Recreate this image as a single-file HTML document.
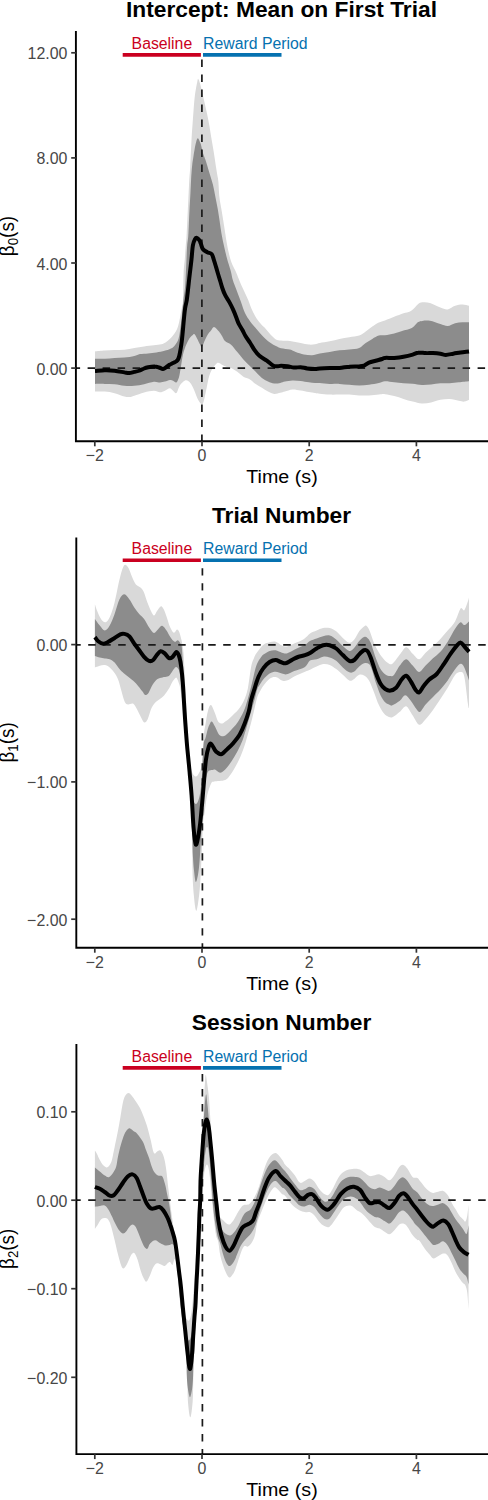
<!DOCTYPE html><html><head><meta charset="utf-8"><style>
html,body{margin:0;padding:0;background:#fff;width:488px;height:1500px;overflow:hidden}
svg{display:block}
text{font-family:"Liberation Sans",sans-serif}
</style></head><body>
<svg width="488" height="1500" viewBox="0 0 488 1500">
<path d="M95.0,351.4C96.6,351.3 101.5,350.8 104.8,350.6C108.1,350.4 111.3,350.2 114.6,350.1C117.9,350.0 121.1,350.1 124.4,349.8C127.7,349.5 131.0,348.7 134.3,348.1C137.6,347.6 140.8,347.0 144.1,346.5C147.4,346.0 151.0,345.7 153.9,345.3C156.8,344.9 159.4,344.8 161.3,344.3C163.2,343.8 164.1,343.3 165.5,342.5C166.9,341.7 168.2,340.5 169.5,339.3C170.8,338.1 171.9,336.9 173.0,335.5C174.1,334.1 175.3,332.6 176.1,331.1C176.9,329.6 177.5,328.1 178.0,326.5C178.5,324.9 178.9,323.4 179.3,321.3C179.8,319.2 180.3,316.2 180.7,314.0C181.1,311.8 181.4,310.5 181.8,308.2C182.2,305.9 182.7,305.8 183.0,300.0C183.3,294.2 183.3,280.5 183.6,273.7C183.9,266.9 184.4,264.1 184.8,259.3C185.2,254.5 185.5,248.8 185.8,245.0C186.1,241.2 186.3,240.5 186.5,236.7C186.7,232.9 187.0,227.2 187.2,222.4C187.4,217.6 187.7,212.8 187.9,208.0C188.1,203.2 188.4,198.5 188.6,193.7C188.8,188.9 189.1,183.5 189.3,179.3C189.6,175.1 189.9,172.3 190.1,168.4C190.3,164.5 190.5,160.2 190.7,156.1C190.9,152.0 191.1,147.9 191.3,143.8C191.5,139.7 191.7,135.6 192.0,131.5C192.3,127.4 192.6,123.3 192.9,119.2C193.2,115.1 193.5,111.0 193.8,106.9C194.2,102.8 194.6,97.7 195.0,94.6C195.4,91.5 195.6,90.5 196.0,88.4C196.4,86.4 196.8,83.9 197.2,82.3C197.6,80.7 197.7,78.6 198.2,78.9C198.7,79.2 199.4,81.2 200.2,84.0C201.0,86.8 202.1,91.8 202.9,95.5C203.8,99.2 204.5,102.6 205.3,106.0C206.1,109.4 206.8,112.6 207.5,116.0C208.2,119.4 208.9,123.1 209.5,126.5C210.1,129.9 210.5,133.1 211.1,136.5C211.7,139.9 212.3,143.6 212.9,147.0C213.5,150.4 214.0,153.7 214.5,157.0C215.0,160.3 215.5,164.0 216.0,167.0C216.5,170.0 216.9,172.7 217.3,175.0C217.7,177.3 218.0,177.3 218.3,181.0C218.7,184.7 218.9,192.2 219.4,196.9C219.9,201.6 220.7,205.1 221.4,209.2C222.1,213.3 222.8,217.4 223.4,221.5C224.1,225.6 224.7,229.7 225.3,233.8C226.0,237.9 226.5,242.0 227.3,246.1C228.1,250.2 229.2,255.1 230.2,258.4C231.1,261.7 232.1,263.9 233.0,266.0C233.9,268.1 234.5,268.8 235.5,271.0C236.5,273.2 237.7,276.3 238.8,279.0C239.9,281.7 240.6,283.5 242.2,287.0C243.8,290.5 246.7,296.5 248.2,300.0C249.7,303.5 250.1,305.5 251.3,308.2C252.5,310.9 253.9,313.8 255.4,316.4C256.9,319.0 258.8,321.6 260.5,323.6C262.2,325.7 263.9,326.8 265.6,328.7C267.3,330.6 269.0,333.0 270.7,334.8C272.4,336.6 274.2,338.4 275.9,339.4C277.6,340.3 278.6,340.2 281.0,340.5C283.4,340.8 286.7,340.6 290.0,341.0C293.3,341.4 297.5,342.4 300.6,343.0C303.7,343.6 306.4,344.4 308.8,344.6C311.2,344.8 313.2,344.6 315.0,344.3C316.8,344.0 317.4,343.5 319.8,343.0C322.2,342.5 326.4,342.0 329.7,341.3C333.0,340.6 336.2,339.6 339.5,338.9C342.8,338.2 346.0,337.8 349.3,337.2C352.6,336.6 356.5,336.6 359.2,335.6C361.9,334.7 363.5,333.0 365.7,331.5C367.9,330.0 370.1,328.1 372.3,326.6C374.5,325.1 376.8,323.5 378.9,322.5C381.0,321.5 382.4,321.3 385.0,320.4C387.6,319.4 391.1,318.0 394.2,316.8C397.3,315.6 400.9,314.2 403.5,313.3C406.1,312.4 408.2,312.4 410.0,311.5C411.8,310.6 412.7,309.5 414.1,308.2C415.5,306.9 416.8,304.9 418.2,303.9C419.6,302.9 420.3,302.5 422.3,302.3C424.3,302.1 427.0,302.0 430.0,302.9C433.0,303.8 437.4,306.4 440.4,307.5C443.3,308.6 445.2,309.7 447.7,309.4C450.1,309.1 452.6,306.5 455.1,305.7C457.6,304.9 460.2,304.4 462.5,304.4C464.8,304.4 467.9,305.5 469.0,305.7L469.0,399.8C468.2,400.1 466.0,401.5 464.3,401.6C462.6,401.8 461.2,401.1 458.8,400.7C456.4,400.2 452.7,399.0 449.6,398.9C446.5,398.8 443.5,399.2 440.4,399.8C437.3,400.4 434.2,401.9 431.1,402.5C428.0,403.1 425.0,403.6 421.9,403.5C418.8,403.4 415.8,402.4 412.7,401.6C409.6,400.8 406.6,399.8 403.5,398.9C400.4,398.0 397.3,396.9 394.2,396.1C391.1,395.3 387.6,394.4 385.0,394.2C382.4,393.9 381.6,394.4 378.9,394.6C376.2,394.8 372.3,395.3 369.0,395.4C365.7,395.5 362.5,395.5 359.2,395.4C355.9,395.3 352.6,394.7 349.3,394.6C346.0,394.5 342.8,394.6 339.5,394.6C336.2,394.6 333.0,394.7 329.7,394.6C326.4,394.5 322.2,394.1 319.8,393.8C317.4,393.5 316.8,393.3 315.0,393.0C313.2,392.7 311.2,392.5 308.8,392.1C306.4,391.7 303.3,390.9 300.6,390.5C297.9,390.1 295.0,389.3 292.4,389.5C289.8,389.7 287.0,391.0 285.0,391.5C283.0,392.0 282.1,392.3 280.3,392.7C278.5,393.1 276.2,394.1 274.2,393.9C272.1,393.7 270.1,392.5 268.0,391.5C265.9,390.5 263.9,389.0 261.9,387.8C259.8,386.6 257.8,385.5 255.7,384.1C253.6,382.7 251.6,380.4 249.6,379.2C247.6,378.0 245.4,377.9 243.4,376.7C241.4,375.5 239.4,373.2 237.3,371.8C235.2,370.4 233.1,369.0 231.1,368.1C229.1,367.2 227.2,367.1 225.6,366.5C224.0,365.9 222.7,365.0 221.5,364.4C220.3,363.8 219.2,362.8 218.2,362.8C217.2,362.8 216.6,363.4 215.7,364.4C214.8,365.3 213.6,366.6 212.5,368.5C211.4,370.4 210.2,372.8 209.2,375.9C208.2,379.0 207.5,383.6 206.7,387.4C205.9,391.2 205.0,396.0 204.3,398.9C203.6,401.8 202.9,403.8 202.3,404.6C201.8,405.4 201.8,404.8 201.0,403.8C200.2,402.9 198.8,401.1 197.7,398.9C196.6,396.7 195.5,393.2 194.4,390.7C193.3,388.2 192.2,385.8 191.1,384.1C190.0,382.5 189.0,381.4 187.9,380.8C186.8,380.2 186.0,380.0 184.6,380.8C183.2,381.6 181.1,383.6 179.7,385.7C178.3,387.8 177.5,392.3 176.4,393.1C175.3,393.9 174.2,391.5 173.1,390.7C172.0,389.9 171.2,388.2 169.8,388.2C168.4,388.2 166.5,390.0 164.9,390.7C163.3,391.4 161.8,392.3 160.0,392.3C158.2,392.3 156.6,390.7 153.9,390.7C151.2,390.7 147.4,391.6 144.1,392.4C140.8,393.2 136.8,394.9 134.3,395.7C131.8,396.5 131.0,396.9 129.3,397.0C127.7,397.1 126.9,397.1 124.4,396.5C122.0,395.9 117.9,394.0 114.6,393.2C111.3,392.4 108.1,391.9 104.8,391.6C101.5,391.3 96.6,391.6 95.0,391.6Z" fill="#d9d9d9"/>
<path d="M95.0,358.8C96.6,358.8 101.5,358.9 104.8,358.8C108.1,358.7 111.3,358.2 114.6,358.0C117.9,357.8 121.1,357.9 124.4,357.6C127.7,357.3 131.7,356.6 134.3,356.0C136.9,355.4 137.7,354.5 140.0,354.1C142.3,353.7 145.3,353.8 148.0,353.5C150.7,353.2 153.6,352.9 156.4,352.5C159.2,352.1 162.3,351.4 164.6,350.8C166.9,350.2 168.6,349.6 170.0,349.0C171.4,348.4 171.9,348.2 172.8,347.5C173.7,346.8 174.7,345.6 175.5,344.5C176.3,343.4 177.1,342.4 177.7,341.0C178.3,339.6 178.8,337.9 179.2,336.0C179.6,334.1 179.9,331.8 180.2,329.5C180.5,327.2 180.9,324.2 181.2,322.0C181.5,319.8 181.4,320.1 181.8,316.4C182.2,312.7 182.9,304.7 183.4,300.0C183.9,295.3 184.6,292.4 185.0,288.0C185.4,283.6 185.6,278.5 185.8,273.7C186.1,268.9 186.3,264.1 186.5,259.3C186.7,254.5 186.9,248.8 187.2,245.0C187.5,241.2 187.9,240.5 188.2,236.7C188.5,232.9 188.7,227.2 188.9,222.4C189.1,217.6 189.3,212.8 189.6,208.0C189.8,203.2 190.2,198.5 190.4,193.7C190.7,188.9 190.8,183.9 191.1,179.3C191.4,174.7 191.7,169.9 192.1,166.0C192.5,162.1 193.1,158.8 193.5,156.1C193.9,153.4 194.1,151.9 194.5,149.9C194.9,147.9 195.1,145.8 195.7,143.8C196.2,141.9 197.0,138.2 197.8,138.2C198.6,138.2 200.0,141.9 200.7,143.8C201.4,145.8 201.5,147.9 202.1,149.9C202.7,151.9 203.4,154.4 204.0,156.1C204.6,157.8 204.6,157.3 205.5,160.0C206.4,162.7 208.0,168.2 209.2,172.3C210.4,176.4 211.9,180.5 212.9,184.6C213.9,188.7 214.6,192.8 215.4,196.9C216.2,201.0 217.1,205.1 217.8,209.2C218.5,213.3 219.1,217.4 219.7,221.5C220.3,225.6 220.8,229.7 221.5,233.8C222.2,237.9 223.1,242.0 224.0,246.1C224.9,250.2 225.9,254.3 227.0,258.4C228.1,262.5 229.7,267.1 230.7,270.7C231.7,274.3 231.8,276.8 232.8,280.0C233.8,283.2 235.1,286.3 236.5,290.0C237.9,293.7 239.6,298.1 241.0,302.0C242.4,305.9 243.6,310.1 245.1,313.3C246.6,316.6 248.5,319.1 250.2,321.5C251.9,323.9 253.7,325.6 255.4,327.7C257.1,329.8 258.8,331.9 260.5,333.8C262.2,335.7 263.9,337.4 265.6,338.9C267.3,340.4 269.0,341.8 270.7,343.0C272.4,344.2 274.2,345.2 275.9,346.1C277.6,347.0 278.6,347.6 281.0,348.2C283.4,348.8 287.6,348.9 290.0,349.5C292.4,350.1 293.4,351.2 295.7,352.0C298.0,352.8 301.2,353.9 303.9,354.4C306.6,354.9 309.4,355.3 312.0,355.2C314.6,355.1 316.9,354.1 319.8,353.6C322.8,353.1 326.4,352.6 329.7,352.0C333.0,351.4 336.2,350.7 339.5,350.3C342.8,349.9 346.0,349.9 349.3,349.5C352.6,349.1 356.5,349.0 359.2,347.9C361.9,346.8 363.5,344.5 365.7,343.0C367.9,341.5 370.1,340.1 372.3,338.9C374.5,337.7 376.8,336.2 378.9,335.6C381.0,335.0 382.4,335.6 385.0,335.2C387.6,334.8 391.1,334.2 394.2,333.4C397.3,332.6 400.9,331.4 403.5,330.6C406.1,329.8 408.2,329.4 410.0,328.7C411.8,328.0 412.7,327.3 414.1,326.2C415.5,325.1 416.8,323.0 418.2,322.1C419.6,321.2 420.3,321.1 422.3,320.9C424.3,320.7 427.0,320.3 430.0,320.8C433.0,321.3 437.4,323.2 440.4,324.1C443.3,325.0 445.2,326.1 447.7,326.0C450.1,325.9 452.6,323.8 455.1,323.2C457.6,322.6 460.2,322.4 462.5,322.3C464.8,322.2 467.9,322.3 469.0,322.3L469.0,381.3C467.3,381.5 462.0,382.0 458.8,382.3C455.6,382.6 452.7,383.1 449.6,383.2C446.5,383.3 443.5,383.0 440.4,383.2C437.3,383.4 434.2,384.2 431.1,384.5C428.0,384.8 425.0,385.1 421.9,385.0C418.8,384.9 415.8,384.0 412.7,383.7C409.6,383.4 406.6,383.4 403.5,383.2C400.4,383.0 397.3,382.6 394.2,382.3C391.1,382.0 387.6,381.2 385.0,381.3C382.4,381.4 381.6,382.5 378.9,383.1C376.2,383.7 372.3,384.4 369.0,384.8C365.7,385.2 362.5,385.6 359.2,385.6C355.9,385.6 352.6,385.1 349.3,384.8C346.0,384.5 342.8,384.0 339.5,383.9C336.2,383.8 333.0,384.0 329.7,383.9C326.4,383.8 322.2,383.2 319.8,383.1C317.4,383.0 316.8,383.1 315.0,383.0C313.2,382.9 311.2,382.6 308.8,382.3C306.4,382.0 303.3,381.3 300.6,381.0C297.9,380.7 295.0,380.4 292.4,380.5C289.8,380.6 287.0,381.2 285.0,381.6C283.0,382.0 282.1,382.6 280.3,382.9C278.5,383.2 276.2,383.7 274.2,383.5C272.1,383.3 270.1,382.5 268.0,381.6C265.9,380.7 263.9,379.6 261.9,378.0C259.8,376.4 257.8,373.9 255.7,371.8C253.6,369.8 251.6,367.8 249.6,365.7C247.6,363.6 245.4,361.8 243.4,359.5C241.4,357.2 239.4,354.6 237.3,352.1C235.2,349.7 233.2,346.6 231.1,344.8C229.0,343.0 226.5,342.5 225.0,341.1C223.5,339.7 223.3,338.2 222.3,336.6C221.3,335.0 220.4,333.2 219.0,331.6C217.6,330.0 215.4,327.1 214.0,327.0C212.6,326.9 211.9,329.5 210.8,330.8C209.7,332.1 208.6,333.1 207.5,334.9C206.4,336.7 205.2,339.4 204.3,341.5C203.4,343.6 202.5,346.6 201.8,347.2C201.1,347.8 201.0,346.3 200.2,344.8C199.4,343.3 197.9,340.0 196.9,338.2C195.9,336.4 195.1,334.7 194.4,334.1C193.7,333.6 193.6,334.2 192.8,334.9C192.0,335.6 190.6,336.5 189.5,338.2C188.4,339.9 187.3,342.1 186.2,344.8C185.1,347.5 183.9,350.5 183.0,354.6C182.1,358.7 181.2,365.5 180.5,369.3C179.8,373.1 179.6,375.3 178.9,377.5C178.2,379.7 177.4,381.9 176.4,382.5C175.4,383.1 174.2,381.2 173.1,380.8C172.0,380.4 171.2,379.9 169.8,380.0C168.4,380.1 166.5,381.2 164.9,381.6C163.3,382.0 161.8,382.5 160.0,382.5C158.2,382.5 156.6,381.4 153.9,381.7C151.2,382.0 147.4,383.5 144.1,384.2C140.8,384.9 137.6,385.5 134.3,385.8C131.0,386.1 127.7,386.1 124.4,385.8C121.1,385.5 117.9,384.5 114.6,384.2C111.3,383.9 108.1,383.9 104.8,383.9C101.5,383.8 96.6,383.9 95.0,383.9Z" fill="#8c8c8c"/>
<line x1="76.0" y1="368.1" x2="488" y2="368.1" stroke="#1a1a1a" stroke-width="1.7" stroke-dasharray="7.5 7.5" stroke-dashoffset="3.4"/>
<line x1="201.9" y1="59.6" x2="201.9" y2="441.3" stroke="#1a1a1a" stroke-width="1.7" stroke-dasharray="7.4 7.6"/>
<path d="M95.0,371.1C96.6,371.0 101.5,370.3 104.8,370.2C108.1,370.1 111.3,370.3 114.6,370.7C117.9,371.1 122.0,372.0 124.4,372.4C126.9,372.8 127.7,373.1 129.3,373.0C131.0,372.9 132.5,372.3 134.3,371.9C136.1,371.5 138.4,371.1 140.0,370.5C141.6,369.9 142.7,369.1 144.1,368.5C145.5,367.9 146.4,367.6 148.2,367.2C150.0,366.8 153.0,366.3 154.8,366.4C156.6,366.4 157.6,367.1 159.0,367.5C160.4,367.9 161.8,369.0 163.0,368.9C164.2,368.8 165.4,367.7 166.5,367.0C167.6,366.3 168.4,365.5 169.5,364.8C170.6,364.1 171.9,363.6 173.0,363.0C174.1,362.4 175.3,362.1 176.1,361.5C176.9,360.9 177.5,360.5 178.0,359.5C178.5,358.5 178.9,357.4 179.3,355.7C179.7,353.9 180.2,351.4 180.6,349.0C181.0,346.6 181.3,345.1 181.8,341.0C182.3,336.9 182.9,330.1 183.4,324.6C183.9,319.1 184.5,312.3 185.1,308.2C185.7,304.1 186.3,303.4 186.8,300.0C187.3,296.6 187.7,292.4 188.2,288.0C188.7,283.6 189.2,278.5 189.8,273.7C190.4,268.9 191.0,264.0 191.5,259.3C192.0,254.6 192.3,248.7 192.9,245.3C193.5,241.9 194.4,240.1 195.1,238.9C195.8,237.7 196.1,237.7 196.8,237.9C197.5,238.1 198.7,239.4 199.4,240.3C200.1,241.2 200.2,242.0 200.8,243.5C201.4,245.0 201.9,247.9 203.0,249.3C204.1,250.8 205.9,251.4 207.3,252.2C208.7,253.0 210.5,252.8 211.6,254.0C212.7,255.2 213.0,257.2 213.7,259.3C214.4,261.4 215.2,264.1 215.9,266.5C216.6,268.9 217.3,271.3 218.0,273.7C218.7,276.1 219.5,278.5 220.2,280.9C220.9,283.3 221.5,285.6 222.3,288.0C223.1,290.4 224.0,292.8 225.2,295.2C226.4,297.6 228.2,300.0 229.5,302.4C230.8,304.8 232.0,307.2 233.1,309.6C234.2,312.0 235.1,314.3 236.0,316.7C236.9,319.1 237.7,321.7 238.8,323.9C239.9,326.1 241.3,328.0 242.4,330.0C243.5,332.0 244.2,333.8 245.5,336.0C246.8,338.2 248.8,340.8 250.2,343.0C251.6,345.2 252.3,346.9 253.8,349.0C255.3,351.1 257.2,353.9 259.4,355.8C261.6,357.8 264.5,359.1 266.8,360.7C269.1,362.3 271.3,364.6 273.0,365.5C274.7,366.4 275.7,366.2 277.0,366.3C278.3,366.4 279.2,365.8 281.0,365.8C282.8,365.8 285.3,365.9 287.5,366.2C289.7,366.5 291.8,367.3 294.0,367.5C296.2,367.7 298.4,367.1 300.6,367.2C302.8,367.3 304.7,368.1 307.1,368.4C309.5,368.7 312.9,368.9 315.0,368.9C317.1,368.9 317.4,368.6 319.8,368.4C322.2,368.2 326.4,368.0 329.7,367.9C333.0,367.8 336.2,368.1 339.5,367.9C342.8,367.7 346.0,366.9 349.3,366.7C352.6,366.4 356.7,366.6 359.2,366.4C361.7,366.2 362.5,366.2 364.1,365.6C365.7,365.0 367.1,363.4 369.0,362.6C370.9,361.8 373.4,361.3 375.6,360.7C377.8,360.1 380.5,359.5 382.1,359.0C383.7,358.5 383.0,358.1 385.0,357.9C387.0,357.7 391.1,358.1 394.2,357.9C397.3,357.7 400.4,357.4 403.5,356.8C406.6,356.2 410.2,355.3 412.7,354.6C415.1,353.9 416.0,352.9 418.2,352.7C420.4,352.4 423.1,353.0 425.6,353.1C428.1,353.2 430.5,353.0 433.0,353.1C435.5,353.2 438.2,353.4 440.4,353.7C442.5,354.0 443.8,354.9 445.9,354.9C448.0,354.9 450.9,354.1 453.3,353.7C455.8,353.3 458.0,352.8 460.6,352.4C463.2,352.0 467.6,351.6 469.0,351.4" fill="none" stroke="#000" stroke-width="4" stroke-linejoin="round" stroke-linecap="butt"/>
<path d="M75.9,31.1V441.3H488" fill="none" stroke="#000" stroke-width="1.9" stroke-linecap="butt" stroke-linejoin="miter"/>
<line x1="71.2" y1="52.8" x2="75.9" y2="52.8" stroke="#333" stroke-width="1.7"/>
<text transform="translate(67.4,59.3) scale(0.96,1)" font-size="16.6" fill="#474747" text-anchor="end">12.00</text>
<line x1="71.2" y1="157.9" x2="75.9" y2="157.9" stroke="#333" stroke-width="1.7"/>
<text transform="translate(67.4,164.4) scale(0.96,1)" font-size="16.6" fill="#474747" text-anchor="end">8.00</text>
<line x1="71.2" y1="263.0" x2="75.9" y2="263.0" stroke="#333" stroke-width="1.7"/>
<text transform="translate(67.4,269.5) scale(0.96,1)" font-size="16.6" fill="#474747" text-anchor="end">4.00</text>
<line x1="71.2" y1="368.1" x2="75.9" y2="368.1" stroke="#333" stroke-width="1.7"/>
<text transform="translate(67.4,374.6) scale(0.96,1)" font-size="16.6" fill="#474747" text-anchor="end">0.00</text>
<line x1="94.8" y1="441.3" x2="94.8" y2="446.3" stroke="#333" stroke-width="1.7"/>
<text transform="translate(94.8,461.1) scale(0.96,1)" font-size="16.6" fill="#474747" text-anchor="middle">−2</text>
<line x1="202.0" y1="441.3" x2="202.0" y2="446.3" stroke="#333" stroke-width="1.7"/>
<text transform="translate(202.0,461.1) scale(0.96,1)" font-size="16.6" fill="#474747" text-anchor="middle">0</text>
<line x1="309.2" y1="441.3" x2="309.2" y2="446.3" stroke="#333" stroke-width="1.7"/>
<text transform="translate(309.2,461.1) scale(0.96,1)" font-size="16.6" fill="#474747" text-anchor="middle">2</text>
<line x1="416.4" y1="441.3" x2="416.4" y2="446.3" stroke="#333" stroke-width="1.7"/>
<text transform="translate(416.4,461.1) scale(0.96,1)" font-size="16.6" fill="#474747" text-anchor="middle">4</text>
<text transform="translate(282,483.2) scale(1.035,1)" font-size="19" font-weight="normal" fill="#000" text-anchor="middle" >Time (s)</text>
<text transform="translate(14.0,236) rotate(-90) scale(0.995,1.06)" font-size="19" text-anchor="middle">β<tspan font-size="13.3" dy="3.4">0</tspan><tspan dy="-3.4">(s)</tspan></text>
<text transform="translate(281.5,16.8) scale(1.035,1)" font-size="22" font-weight="bold" fill="#000" text-anchor="middle" >Intercept: Mean on First Trial</text>
<line x1="122.7" y1="54.9" x2="200.9" y2="54.9" stroke="#ca0020" stroke-width="3.6"/>
<line x1="203" y1="54.9" x2="281.5" y2="54.9" stroke="#0571b0" stroke-width="3.6"/>
<text x="131.6" y="48.5" font-size="15.8" fill="#ca0020">Baseline</text>
<text x="203.1" y="48.5" font-size="15.8" fill="#0571b0">Reward Period</text>
<path d="M94.9,604.2C95.3,605.4 96.3,609.0 97.4,611.6C98.5,614.2 100.1,618.0 101.5,619.8C102.9,621.6 104.2,622.6 105.6,622.2C107.0,621.8 108.2,620.6 109.7,617.3C111.2,614.0 113.0,608.8 114.6,602.5C116.2,596.2 118.1,585.3 119.5,579.6C120.9,573.9 121.8,570.6 122.8,568.1C123.8,565.6 124.2,564.8 125.2,564.8C126.2,564.8 127.4,566.2 128.5,568.1C129.6,570.0 130.6,573.6 131.8,576.3C133.0,579.0 134.4,582.6 135.9,584.5C137.4,586.4 139.4,586.4 140.8,587.8C142.2,589.2 143.0,590.2 144.1,592.7C145.2,595.2 146.2,599.5 147.4,602.5C148.6,605.5 149.9,608.8 151.0,611.0C152.1,613.2 153.1,615.6 154.1,615.6C155.1,615.6 156.0,612.4 157.0,611.0C158.0,609.6 159.2,607.7 160.0,607.0C160.8,606.3 161.2,606.1 162.0,606.8C162.8,607.5 163.7,609.1 164.5,611.0C165.3,612.9 166.1,615.5 167.0,618.0C167.9,620.5 168.6,623.7 169.7,626.2C170.8,628.7 172.6,632.2 173.8,632.8C175.0,633.3 176.1,629.5 177.0,629.5C177.9,629.5 178.7,630.6 179.5,632.8C180.3,635.0 181.3,639.0 182.0,642.6C182.7,646.2 183.0,646.2 183.6,654.1C184.2,662.0 184.8,677.7 185.5,690.0C186.2,702.3 186.8,716.7 187.5,728.0C188.2,739.3 188.8,750.7 189.5,758.0C190.2,765.3 191.0,768.9 192.0,772.0C193.0,775.1 194.5,776.3 195.7,776.5C196.9,776.7 198.0,774.8 199.0,773.0C200.0,771.2 200.8,769.5 201.5,766.0C202.2,762.5 202.6,757.2 203.0,752.0C203.4,746.8 203.4,739.7 203.8,735.0C204.2,730.3 204.8,728.0 205.5,724.0C206.2,720.0 207.1,713.9 208.0,710.8C208.9,707.6 209.7,704.7 210.9,705.1C212.1,705.5 213.8,710.6 215.0,713.3C216.2,716.0 216.9,719.8 218.1,721.5C219.3,723.2 220.9,723.6 222.2,723.5C223.5,723.4 224.6,722.0 226.0,721.0C227.4,720.0 228.3,719.4 230.4,717.4C232.5,715.4 236.4,711.9 238.6,709.2C240.8,706.5 242.2,704.4 243.7,701.0C245.2,697.6 246.6,694.4 247.8,688.7C249.0,683.0 250.1,672.1 251.1,667.0C252.1,661.9 253.0,660.5 254.0,658.0C255.0,655.5 255.7,654.3 257.3,652.1C258.9,649.9 261.3,646.4 263.4,644.8C265.4,643.2 267.6,642.8 269.6,642.3C271.7,641.8 273.6,641.2 275.7,641.7C277.8,642.2 280.0,644.7 281.9,645.5C283.8,646.3 284.8,646.8 286.8,646.5C288.9,646.2 291.3,644.8 294.2,643.5C297.1,642.2 301.4,640.7 304.0,639.0C306.6,637.3 307.9,634.9 310.0,633.5C312.1,632.1 314.4,631.4 316.6,630.5C318.8,629.6 320.9,628.4 323.1,628.0C325.3,627.6 327.5,627.5 329.7,628.0C331.9,628.5 334.0,629.6 336.2,631.3C338.4,632.9 340.6,636.0 342.8,637.9C345.0,639.8 347.4,642.5 349.3,642.8C351.2,643.1 352.7,641.4 354.3,639.5C355.9,637.6 357.6,633.5 359.2,631.3C360.8,629.1 362.9,627.3 364.1,626.4C365.3,625.5 365.7,625.3 366.6,626.1C367.6,626.9 368.6,628.5 369.8,631.3C371.0,634.1 372.4,639.2 373.9,642.8C375.4,646.3 377.2,649.9 378.9,652.6C380.5,655.3 382.3,657.5 383.8,659.2C385.3,660.9 386.6,662.1 388.0,662.9C389.4,663.7 390.4,665.2 392.4,663.8C394.4,662.4 397.5,657.4 399.8,654.6C402.1,651.8 404.1,647.4 406.2,647.2C408.3,647.1 410.5,651.7 412.7,653.7C414.9,655.7 417.0,659.4 419.1,659.2C421.2,659.0 423.3,654.9 425.6,652.7C427.9,650.6 430.5,648.6 433.0,646.3C435.5,644.0 437.9,641.5 440.4,638.9C442.8,636.3 445.2,633.5 447.7,630.6C450.1,627.7 453.0,625.1 455.1,621.4C457.2,617.7 459.1,610.4 460.6,608.5C462.1,606.6 463.1,611.5 464.3,610.3C465.5,609.1 467.2,603.2 468.0,601.1C468.8,599.0 468.8,598.0 469.0,597.4L469.0,708.1C468.8,707.5 468.8,709.6 468.0,704.4C467.2,699.2 465.5,682.1 464.3,676.7C463.1,671.3 462.1,672.4 460.6,672.1C459.1,671.8 457.2,672.3 455.1,674.9C453.0,677.5 450.1,683.8 447.7,687.8C445.2,691.8 442.8,695.2 440.4,698.9C437.9,702.6 435.5,706.5 433.0,709.9C430.5,713.3 427.9,716.7 425.6,719.2C423.3,721.7 421.2,725.3 419.1,724.7C417.0,724.1 414.9,718.6 412.7,715.5C410.5,712.4 408.3,706.8 406.2,706.2C404.1,705.6 402.1,709.9 399.8,711.8C397.5,713.6 394.5,716.6 392.4,717.3C390.3,718.0 388.4,716.7 387.0,716.0C385.6,715.3 385.2,715.1 383.8,713.3C382.4,711.5 380.5,708.6 378.9,705.1C377.2,701.6 375.5,696.1 373.9,692.0C372.2,687.9 370.6,683.2 369.0,680.5C367.4,677.8 365.7,676.6 364.1,675.6C362.5,674.6 360.8,674.2 359.2,674.8C357.6,675.3 355.9,677.9 354.3,678.9C352.7,679.9 351.2,681.2 349.3,680.5C347.4,679.8 345.0,676.7 342.8,674.8C340.6,672.9 338.4,670.6 336.2,669.0C334.0,667.4 331.9,665.7 329.7,664.9C327.5,664.1 325.3,663.8 323.1,664.1C320.9,664.4 318.8,665.7 316.6,666.6C314.4,667.5 311.9,668.9 310.0,669.8C308.1,670.7 307.6,670.7 305.0,671.8C302.4,672.9 297.2,675.0 294.2,676.5C291.2,678.0 288.9,680.0 286.8,680.6C284.8,681.2 283.8,681.0 281.9,680.4C280.0,679.8 277.8,677.3 275.7,677.0C273.6,676.7 271.7,677.3 269.6,678.8C267.6,680.3 264.9,683.8 263.4,685.8C261.9,687.8 261.5,688.6 260.5,690.5C259.5,692.4 258.4,693.5 257.3,697.0C256.2,700.5 255.2,706.1 253.9,711.2C252.7,716.3 251.2,722.5 249.8,727.6C248.4,732.7 247.2,737.2 245.7,742.0C244.2,746.8 242.3,752.2 240.6,756.3C238.9,760.4 237.2,763.5 235.5,766.6C233.8,769.7 232.1,772.6 230.4,774.8C228.7,777.0 227.9,778.9 225.2,780.0C222.5,781.1 216.5,781.0 214.2,781.5C211.9,782.0 212.4,780.9 211.2,783.3C210.0,785.6 208.2,790.8 207.1,795.6C206.0,800.4 205.4,807.2 204.7,812.0C204.0,816.8 203.5,816.9 203.0,824.3C202.5,831.6 202.1,846.0 201.6,856.1C201.1,866.2 200.7,876.9 200.1,884.8C199.5,892.7 198.7,899.1 198.0,903.4C197.3,907.7 196.7,911.6 196.0,910.5C195.3,909.4 194.5,902.0 194.0,897.0C193.5,892.0 193.1,887.3 192.8,880.5C192.5,873.7 192.5,865.2 192.3,856.0C192.2,846.8 192.2,835.1 191.9,825.0C191.6,814.9 191.2,804.4 190.6,795.6C190.0,786.8 189.3,779.9 188.6,772.0C187.9,764.1 187.0,755.9 186.3,748.4C185.6,740.9 185.2,734.6 184.6,726.7C184.0,718.8 183.4,705.8 182.9,701.0C182.4,696.2 182.2,699.5 181.8,698.0C181.5,696.5 181.2,694.1 180.8,692.0C180.4,689.9 180.2,687.4 179.5,685.1C178.8,682.8 177.6,679.4 176.9,678.2C176.2,677.1 175.9,677.6 175.2,678.2C174.5,678.8 173.5,680.2 172.6,681.6C171.7,683.0 170.7,685.4 170.0,686.8C169.3,688.1 169.2,688.3 168.2,689.7C167.2,691.1 165.6,693.8 164.1,695.4C162.6,697.0 160.7,698.3 159.2,699.5C157.7,700.7 156.5,701.2 155.1,702.8C153.7,704.4 152.2,706.6 151.0,709.3C149.8,712.0 148.8,717.0 147.7,719.2C146.6,721.4 145.5,722.8 144.4,722.5C143.3,722.2 142.3,719.7 141.1,717.5C139.9,715.3 138.3,711.6 137.0,709.3C135.7,707.0 134.5,704.4 133.0,703.6C131.5,702.8 129.4,704.7 128.0,704.4C126.6,704.1 125.9,704.2 124.8,702.0C123.7,699.8 122.6,695.0 121.5,691.3C120.4,687.6 119.4,682.8 118.2,679.8C117.0,676.8 116.0,675.0 114.6,673.0C113.2,671.0 111.3,668.8 109.7,667.5C108.1,666.2 106.5,665.3 104.8,665.0C103.1,664.7 101.4,665.4 99.8,665.8C98.2,666.2 95.7,667.2 94.9,667.5Z" fill="#d9d9d9"/>
<path d="M94.9,618.9C95.7,620.0 98.2,623.6 99.8,625.5C101.4,627.4 103.1,630.4 104.8,630.4C106.5,630.4 108.1,628.2 109.7,625.5C111.3,622.8 113.0,618.4 114.6,614.0C116.2,609.6 117.9,602.6 119.5,599.3C121.1,596.0 122.8,594.3 124.4,594.3C126.0,594.3 127.7,597.1 129.3,599.3C131.0,601.5 132.7,605.0 134.3,607.5C136.0,610.0 137.6,612.1 139.2,614.0C140.8,615.9 142.4,616.6 144.1,618.9C145.8,621.2 147.8,625.6 149.5,628.0C151.2,630.4 152.5,632.9 154.0,633.0C155.5,633.1 157.1,629.9 158.5,628.7C159.9,627.5 160.8,625.5 162.2,625.8C163.6,626.1 165.3,628.8 166.7,630.7C168.0,632.6 169.0,635.1 170.3,637.0C171.6,638.9 173.3,641.3 174.6,641.8C175.9,642.3 176.9,639.9 177.9,640.2C178.9,640.5 179.6,641.9 180.3,643.4C181.0,644.9 181.4,641.4 182.0,649.2C182.6,657.0 183.3,677.4 184.0,690.0C184.7,702.6 185.2,713.3 186.0,725.0C186.8,736.7 187.7,749.2 188.5,760.0C189.3,770.8 190.2,783.2 191.0,790.0C191.8,796.8 192.7,798.7 193.5,801.0C194.3,803.3 195.3,804.2 196.1,804.0C196.9,803.8 197.8,802.3 198.5,800.0C199.2,797.7 200.0,794.7 200.6,790.0C201.2,785.3 201.7,779.5 202.2,772.0C202.7,764.5 202.9,750.7 203.5,745.0C204.1,739.3 204.8,740.5 205.5,738.0C206.2,735.5 206.9,732.2 207.5,730.0C208.1,727.8 208.6,726.4 209.3,725.0C210.0,723.6 210.8,721.2 211.7,721.5C212.6,721.8 213.8,724.4 215.0,726.6C216.2,728.8 217.7,733.2 219.1,734.8C220.5,736.4 222.0,736.3 223.2,736.3C224.4,736.2 225.3,735.4 226.5,734.5C227.7,733.6 228.6,732.7 230.4,730.7C232.2,728.7 235.3,725.8 237.5,722.5C239.7,719.2 242.0,715.1 243.7,711.2C245.4,707.3 246.4,703.5 247.8,698.9C249.2,694.3 250.7,688.4 251.9,683.6C253.1,678.8 254.1,673.6 255.0,670.2C255.9,666.8 256.4,665.2 257.3,663.2C258.2,661.2 259.5,659.4 260.5,658.0C261.5,656.6 261.9,655.8 263.4,654.6C264.9,653.4 267.6,651.6 269.6,650.9C271.7,650.2 273.6,650.0 275.7,650.3C277.8,650.6 280.0,652.2 281.9,652.7C283.8,653.2 284.8,653.9 286.8,653.4C288.9,652.9 291.1,651.2 294.2,649.7C297.3,648.2 302.9,646.0 305.5,644.5C308.1,643.0 308.1,642.0 310.0,641.0C311.9,640.0 314.4,639.3 316.6,638.5C318.8,637.7 320.9,636.7 323.1,636.2C325.3,635.7 327.5,634.9 329.7,635.4C331.9,635.9 334.0,637.7 336.2,639.5C338.4,641.3 340.6,644.2 342.8,646.1C345.0,648.0 347.4,650.7 349.3,651.0C351.2,651.3 352.7,649.4 354.3,647.7C355.9,646.1 357.6,642.9 359.2,641.1C360.8,639.3 362.7,637.5 364.1,637.0C365.5,636.5 366.3,636.9 367.4,637.9C368.5,638.9 369.3,639.5 370.7,642.8C372.1,646.1 374.0,653.1 375.6,657.5C377.2,661.9 378.9,666.2 380.5,669.0C382.1,671.8 383.8,673.3 385.4,674.5C387.0,675.7 388.6,675.9 390.0,676.0C391.4,676.1 392.4,676.6 394.0,674.9C395.6,673.2 397.8,668.2 399.8,665.6C401.8,663.0 404.1,659.2 406.2,659.2C408.3,659.2 410.5,663.5 412.7,665.6C414.9,667.8 417.0,672.1 419.1,672.1C421.2,672.1 423.3,667.9 425.6,665.6C427.9,663.3 430.5,660.6 433.0,658.3C435.5,656.0 437.9,654.6 440.4,651.8C442.8,649.0 445.2,645.6 447.7,641.7C450.1,637.9 453.0,631.9 455.1,628.7C457.2,625.5 459.1,622.9 460.6,622.3C462.1,621.7 462.9,625.2 464.3,625.1C465.7,625.0 468.2,622.0 469.0,621.4L469.0,680.4C468.2,678.2 465.7,670.3 464.3,667.5C462.9,664.7 462.1,663.5 460.6,663.8C459.1,664.1 457.2,666.5 455.1,669.3C453.0,672.1 450.1,677.0 447.7,680.4C445.2,683.8 442.8,686.8 440.4,689.6C437.9,692.4 435.5,694.5 433.0,697.0C430.5,699.5 427.8,701.9 425.6,704.4C423.5,706.9 421.6,711.0 420.1,711.8C418.6,712.6 417.9,710.9 416.4,709.0C414.8,707.1 412.6,703.0 410.8,700.7C409.0,698.4 407.1,695.2 405.3,695.2C403.5,695.2 402.0,699.0 399.8,700.7C397.6,702.4 394.0,704.6 392.4,705.3C390.8,706.0 391.2,705.5 390.0,705.0C388.8,704.5 387.0,704.2 385.4,702.6C383.8,701.0 382.1,698.6 380.5,695.2C378.9,691.8 377.0,686.2 375.6,682.1C374.2,678.0 373.4,673.7 372.3,670.7C371.2,667.7 370.4,665.3 369.0,664.1C367.6,662.9 365.7,662.9 364.1,663.3C362.5,663.7 360.8,665.2 359.2,666.6C357.6,668.0 355.9,670.5 354.3,671.5C352.7,672.5 351.2,673.0 349.3,672.3C347.4,671.6 345.0,669.3 342.8,667.4C340.6,665.5 338.4,662.4 336.2,660.8C334.0,659.1 331.9,658.2 329.7,657.5C327.5,656.8 325.3,656.4 323.1,656.7C320.9,657.0 318.8,658.6 316.6,659.2C314.4,659.8 311.9,659.2 310.0,660.5C308.1,661.8 307.6,665.1 305.0,666.9C302.4,668.6 297.2,669.8 294.2,671.0C291.2,672.2 288.9,673.9 286.8,674.3C284.8,674.7 283.8,674.0 281.9,673.6C280.0,673.2 277.8,671.8 275.7,671.8C273.6,671.8 271.7,672.4 269.6,673.6C267.6,674.8 264.9,677.6 263.4,679.2C261.9,680.9 261.5,681.9 260.5,683.5C259.5,685.1 258.2,686.6 257.3,689.0C256.4,691.4 256.1,694.0 255.0,697.9C253.9,701.8 252.3,707.5 250.9,712.3C249.5,717.1 248.2,722.0 246.8,726.6C245.4,731.2 244.2,735.8 242.7,739.9C241.1,744.0 239.4,747.6 237.5,751.2C235.6,754.8 233.5,758.3 231.4,761.4C229.3,764.5 227.1,767.7 225.2,769.6C223.3,771.5 221.8,772.7 220.1,772.7C218.4,772.7 216.3,770.1 215.0,769.6C213.7,769.1 213.6,769.8 212.5,770.0C211.4,770.2 209.5,770.0 208.5,771.0C207.5,772.0 207.1,773.7 206.5,776.0C205.9,778.3 205.5,781.0 205.0,785.0C204.5,789.0 204.0,794.2 203.5,800.0C203.0,805.8 202.4,813.0 202.0,820.0C201.6,827.0 201.2,834.5 200.8,841.7C200.4,848.9 199.9,857.8 199.4,863.3C198.9,868.8 198.6,871.6 198.0,874.7C197.4,877.8 196.5,882.6 195.8,881.9C195.1,881.2 194.5,874.7 194.0,870.4C193.5,866.1 193.2,861.1 192.9,856.0C192.6,850.9 192.6,846.0 192.4,840.0C192.2,834.0 192.2,827.4 191.9,820.0C191.6,812.6 191.2,803.6 190.6,795.6C190.0,787.6 189.3,779.9 188.6,772.0C187.9,764.1 187.0,755.9 186.3,748.4C185.6,740.9 185.2,734.6 184.6,726.7C184.0,718.8 183.3,706.8 182.9,701.0C182.5,695.2 182.3,694.8 182.0,692.0C181.7,689.2 181.5,686.9 181.2,684.0C180.9,681.1 180.4,677.1 180.0,674.7C179.6,672.3 179.3,670.8 178.7,669.5C178.0,668.2 177.0,666.9 176.1,666.9C175.2,666.9 174.5,668.2 173.5,669.5C172.5,670.8 171.0,673.5 170.0,674.7C169.0,675.9 168.7,676.2 167.4,676.6C166.2,677.0 164.2,677.0 162.5,677.4C160.8,677.8 159.2,677.8 157.5,679.0C155.8,680.2 154.1,682.5 152.6,684.8C151.1,687.1 149.7,691.3 148.5,693.0C147.3,694.7 146.2,695.2 145.2,695.0C144.2,694.8 143.6,692.9 142.5,691.5C141.4,690.1 140.0,688.1 138.5,686.4C137.0,684.6 135.2,682.6 133.5,681.0C131.8,679.4 130.2,678.3 128.5,677.0C126.8,675.7 125.0,674.3 123.5,673.0C122.0,671.7 121.0,670.9 119.5,669.1C118.0,667.4 116.2,664.1 114.6,662.5C113.0,660.9 111.3,660.0 109.7,659.3C108.1,658.6 106.5,658.7 104.8,658.4C103.1,658.1 101.4,658.0 99.8,657.6C98.2,657.2 95.7,656.3 94.9,656.0Z" fill="#8c8c8c"/>
<line x1="76.0" y1="644.8" x2="488" y2="644.8" stroke="#1a1a1a" stroke-width="1.7" stroke-dasharray="7.5 7.5" stroke-dashoffset="2.8"/>
<line x1="202.4" y1="568.2" x2="202.4" y2="947.7" stroke="#1a1a1a" stroke-width="1.7" stroke-dasharray="7.4 7.6"/>
<path d="M94.9,637.1C95.5,637.8 96.8,640.1 98.2,641.2C99.6,642.3 101.5,643.6 103.1,643.7C104.7,643.8 106.1,643.0 108.0,642.0C109.9,641.0 112.5,639.3 114.6,638.0C116.6,636.7 118.7,635.0 120.3,634.3C121.9,633.6 122.9,633.6 124.4,633.9C125.9,634.2 127.7,634.7 129.3,636.3C131.0,637.9 132.7,641.4 134.3,643.7C136.0,646.0 137.6,648.0 139.2,650.2C140.8,652.4 142.5,655.0 144.1,656.8C145.7,658.6 147.5,660.4 149.0,660.9C150.5,661.4 151.9,661.0 153.2,660.0C154.5,659.0 155.6,656.5 156.8,655.0C158.0,653.5 159.3,651.5 160.6,651.2C161.9,650.9 163.3,652.3 164.7,653.4C166.1,654.5 167.6,657.2 168.8,657.9C170.0,658.6 171.0,658.2 172.1,657.4C173.2,656.6 174.6,653.9 175.4,653.0C176.2,652.1 176.4,651.8 176.9,652.1C177.4,652.4 178.1,653.4 178.7,655.0C179.3,656.6 179.8,658.4 180.4,661.7C181.0,665.0 181.7,670.5 182.1,674.7C182.5,678.9 182.8,682.7 183.1,687.0C183.4,691.3 183.5,694.1 183.9,700.7C184.3,707.3 185.0,718.8 185.6,726.7C186.2,734.7 186.6,740.9 187.3,748.4C188.0,755.9 188.9,764.1 189.6,772.0C190.3,779.9 190.9,786.2 191.6,795.6C192.3,805.0 192.9,820.2 193.6,828.4C194.3,836.6 195.0,843.3 195.8,844.6C196.6,845.9 197.6,839.4 198.3,836.0C199.0,832.6 199.4,829.5 200.1,824.0C200.8,818.5 201.5,809.8 202.2,802.7C202.8,795.6 203.4,788.4 204.0,781.3C204.6,774.2 205.1,765.8 205.9,760.0C206.7,754.2 207.9,749.1 208.8,746.4C209.7,743.7 210.2,743.3 211.2,743.9C212.2,744.5 213.9,748.7 215.0,750.2C216.1,751.7 217.0,752.3 218.0,753.0C219.0,753.7 220.1,754.4 221.1,754.3C222.1,754.2 223.0,753.2 224.0,752.3C225.0,751.4 225.7,750.6 227.3,749.1C228.9,747.6 231.4,745.4 233.4,743.0C235.4,740.6 237.7,738.0 239.6,734.8C241.5,731.5 243.2,727.4 244.7,723.5C246.2,719.6 247.7,715.1 248.8,711.2C249.9,707.3 250.1,703.9 251.1,700.0C252.1,696.1 253.6,691.7 254.8,687.8C256.0,683.9 257.1,680.0 258.5,676.7C259.9,673.4 261.5,670.6 263.4,668.1C265.2,665.6 267.6,663.3 269.6,662.0C271.7,660.7 273.9,660.1 275.7,660.1C277.5,660.1 279.0,661.5 280.7,662.0C282.4,662.5 283.8,663.5 285.6,663.2C287.4,662.9 289.6,661.1 291.7,660.1C293.8,659.1 295.7,657.8 297.9,657.0C300.1,656.2 303.0,655.9 305.0,655.2C307.0,654.5 308.1,654.1 310.0,653.0C311.9,651.9 314.4,649.8 316.6,648.5C318.8,647.2 320.9,645.8 323.1,645.2C325.3,644.7 327.5,644.7 329.7,645.2C331.9,645.8 334.0,646.9 336.2,648.5C338.4,650.1 340.6,653.1 342.8,655.1C345.0,657.1 347.4,660.0 349.3,660.8C351.2,661.6 352.7,661.1 354.3,660.0C355.9,658.9 357.6,655.9 359.2,654.3C360.8,652.7 362.7,650.8 364.1,650.2C365.5,649.7 366.3,649.8 367.4,651.0C368.5,652.2 369.3,654.0 370.7,657.5C372.1,661.0 374.0,667.9 375.6,672.3C377.2,676.7 378.9,681.0 380.5,683.8C382.1,686.6 383.5,687.9 385.2,689.0C386.9,690.1 388.7,690.8 390.5,690.6C392.3,690.4 394.2,689.6 396.1,687.8C398.0,685.9 399.9,681.5 401.6,679.5C403.3,677.5 404.7,675.5 406.2,675.8C407.7,676.1 409.3,679.0 410.8,681.3C412.3,683.6 414.0,687.8 415.4,689.6C416.8,691.5 417.7,693.0 419.1,692.4C420.5,691.8 422.0,688.0 423.7,685.9C425.4,683.8 427.1,681.5 429.3,679.5C431.5,677.5 434.2,676.6 436.7,674.0C439.1,671.4 441.6,667.3 444.0,663.8C446.4,660.2 449.2,655.8 451.4,652.7C453.6,649.6 455.5,647.1 457.0,645.4C458.5,643.7 459.4,642.5 460.6,642.6C461.8,642.8 462.9,644.8 464.3,646.3C465.7,647.8 468.2,650.9 469.0,651.8" fill="none" stroke="#000" stroke-width="4" stroke-linejoin="round" stroke-linecap="butt"/>
<path d="M76.3,537.5V947.7H488" fill="none" stroke="#000" stroke-width="1.9" stroke-linecap="butt" stroke-linejoin="miter"/>
<line x1="71.2" y1="644.6" x2="76.3" y2="644.6" stroke="#333" stroke-width="1.7"/>
<text transform="translate(67.4,651.1) scale(0.96,1)" font-size="16.6" fill="#474747" text-anchor="end">0.00</text>
<line x1="71.2" y1="781.9" x2="76.3" y2="781.9" stroke="#333" stroke-width="1.7"/>
<text transform="translate(67.4,788.4) scale(0.96,1)" font-size="16.6" fill="#474747" text-anchor="end">−1.00</text>
<line x1="71.2" y1="919.2" x2="76.3" y2="919.2" stroke="#333" stroke-width="1.7"/>
<text transform="translate(67.4,925.7) scale(0.96,1)" font-size="16.6" fill="#474747" text-anchor="end">−2.00</text>
<line x1="94.8" y1="947.7" x2="94.8" y2="952.7" stroke="#333" stroke-width="1.7"/>
<text transform="translate(94.8,967.5) scale(0.96,1)" font-size="16.6" fill="#474747" text-anchor="middle">−2</text>
<line x1="202.0" y1="947.7" x2="202.0" y2="952.7" stroke="#333" stroke-width="1.7"/>
<text transform="translate(202.0,967.5) scale(0.96,1)" font-size="16.6" fill="#474747" text-anchor="middle">0</text>
<line x1="309.2" y1="947.7" x2="309.2" y2="952.7" stroke="#333" stroke-width="1.7"/>
<text transform="translate(309.2,967.5) scale(0.96,1)" font-size="16.6" fill="#474747" text-anchor="middle">2</text>
<line x1="416.4" y1="947.7" x2="416.4" y2="952.7" stroke="#333" stroke-width="1.7"/>
<text transform="translate(416.4,967.5) scale(0.96,1)" font-size="16.6" fill="#474747" text-anchor="middle">4</text>
<text transform="translate(282,989.5999999999999) scale(1.035,1)" font-size="19" font-weight="normal" fill="#000" text-anchor="middle" >Time (s)</text>
<text transform="translate(14.0,742.4) rotate(-90) scale(0.995,1.06)" font-size="19" text-anchor="middle">β<tspan font-size="13.3" dy="3.4">1</tspan><tspan dy="-3.4">(s)</tspan></text>
<text transform="translate(281.5,523.1999999999999) scale(1.035,1)" font-size="22" font-weight="bold" fill="#000" text-anchor="middle" >Trial Number</text>
<line x1="122.7" y1="560.2" x2="200.9" y2="560.2" stroke="#ca0020" stroke-width="3.6"/>
<line x1="203" y1="560.2" x2="281.5" y2="560.2" stroke="#0571b0" stroke-width="3.6"/>
<text x="131.6" y="553.8000000000001" font-size="15.8" fill="#ca0020">Baseline</text>
<text x="203.1" y="553.8000000000001" font-size="15.8" fill="#0571b0">Reward Period</text>
<path d="M94.9,1150.6C95.2,1151.2 96.2,1152.4 97.0,1154.0C97.8,1155.6 98.8,1158.2 99.8,1160.0C100.8,1161.8 101.9,1163.8 103.0,1165.0C104.1,1166.2 105.4,1167.2 106.4,1167.4C107.4,1167.6 108.2,1166.9 109.0,1166.0C109.8,1165.1 110.6,1163.8 111.3,1162.0C112.0,1160.2 112.5,1157.5 113.0,1155.0C113.5,1152.5 113.8,1151.3 114.6,1147.3C115.4,1143.3 117.0,1135.8 117.9,1130.9C118.9,1126.0 119.5,1122.5 120.3,1117.8C121.1,1113.1 122.0,1106.7 122.8,1103.0C123.6,1099.3 124.2,1097.4 125.2,1095.7C126.2,1094.0 127.4,1092.9 128.5,1092.9C129.6,1092.9 130.6,1094.3 131.8,1095.7C133.0,1097.1 134.5,1099.4 135.9,1101.4C137.3,1103.5 138.8,1105.6 140.0,1108.0C141.2,1110.4 142.2,1113.0 143.4,1116.0C144.6,1119.0 145.8,1122.0 147.0,1126.0C148.2,1130.0 149.5,1135.5 150.7,1140.0C151.8,1144.5 152.8,1151.1 153.9,1153.0C155.0,1154.9 156.1,1151.8 157.2,1151.4C158.3,1151.0 159.4,1149.7 160.5,1150.6C161.6,1151.5 162.9,1154.1 163.8,1157.0C164.7,1159.9 165.2,1162.7 166.0,1168.0C166.8,1173.3 167.6,1182.6 168.4,1189.0C169.2,1195.4 169.9,1201.0 170.6,1206.4C171.3,1211.9 172.0,1216.6 172.7,1221.7C173.4,1226.8 174.1,1232.4 174.7,1237.1C175.3,1241.8 175.9,1245.3 176.5,1250.0C177.1,1254.7 177.4,1259.2 178.0,1265.0C178.6,1270.8 179.3,1278.8 180.0,1285.0C180.7,1291.2 181.2,1296.8 182.0,1302.0C182.8,1307.2 183.8,1312.9 185.0,1316.0C186.2,1319.1 187.9,1321.2 189.0,1320.5C190.1,1319.8 190.8,1316.8 191.5,1312.0C192.2,1307.2 192.8,1300.3 193.5,1292.0C194.2,1283.7 194.9,1271.5 195.5,1262.0C196.1,1252.5 196.5,1243.7 197.0,1235.0C197.5,1226.3 198.0,1218.3 198.5,1210.0C199.0,1201.7 199.5,1193.3 200.0,1185.0C200.5,1176.7 201.0,1169.2 201.5,1160.0C202.0,1150.8 202.6,1140.0 203.0,1130.0C203.4,1120.0 203.7,1108.0 204.0,1100.0C204.3,1092.0 204.7,1086.2 205.0,1082.0C205.3,1077.8 205.5,1074.8 205.8,1074.8C206.1,1074.8 206.5,1078.3 207.0,1082.0C207.5,1085.7 208.4,1091.5 208.9,1097.0C209.4,1102.5 209.7,1109.0 210.1,1115.3C210.5,1121.6 211.1,1128.4 211.5,1135.0C211.9,1141.6 212.4,1148.3 212.8,1155.0C213.2,1161.7 213.6,1168.3 214.0,1175.0C214.4,1181.7 214.9,1189.2 215.5,1195.0C216.1,1200.8 216.8,1206.3 217.5,1210.0C218.2,1213.7 219.1,1215.3 220.0,1217.0C220.9,1218.7 222.0,1219.2 223.1,1220.3C224.2,1221.4 225.4,1222.8 226.5,1223.5C227.6,1224.2 228.6,1224.8 229.7,1224.4C230.8,1224.0 231.9,1222.5 233.0,1221.0C234.1,1219.5 234.6,1218.0 236.2,1215.4C237.8,1212.8 240.6,1207.5 242.8,1205.6C245.0,1203.7 247.4,1205.3 249.3,1203.9C251.2,1202.5 252.7,1200.4 254.3,1197.4C256.0,1194.4 257.6,1190.6 259.2,1185.9C260.8,1181.2 262.5,1174.2 264.1,1169.5C265.7,1164.8 267.1,1160.7 269.0,1158.0C270.9,1155.3 273.4,1152.8 275.6,1153.1C277.8,1153.4 280.5,1157.8 282.1,1159.7C283.7,1161.6 283.7,1163.0 285.0,1164.6C286.3,1166.2 288.3,1167.7 289.9,1169.5C291.5,1171.3 293.1,1173.0 294.8,1175.2C296.5,1177.4 298.2,1181.6 299.8,1182.6C301.4,1183.6 303.1,1181.7 304.7,1181.0C306.3,1180.3 308.0,1178.4 309.6,1178.5C311.2,1178.6 312.9,1180.0 314.5,1181.8C316.1,1183.6 317.8,1187.2 319.4,1189.2C321.0,1191.2 322.8,1193.1 324.3,1194.1C325.8,1195.0 327.0,1195.7 328.4,1194.9C329.8,1194.1 331.0,1191.8 332.5,1189.2C334.0,1186.6 335.9,1182.0 337.5,1179.3C339.1,1176.6 340.5,1174.4 342.4,1172.8C344.3,1171.2 346.7,1170.2 348.9,1169.5C351.1,1168.8 353.6,1168.7 355.5,1168.7C357.4,1168.7 358.4,1168.8 360.0,1169.5C361.6,1170.2 363.3,1171.7 364.9,1172.8C366.5,1173.9 368.1,1175.7 369.8,1176.1C371.5,1176.5 373.2,1175.5 374.8,1175.2C376.4,1174.9 378.1,1174.1 379.7,1174.4C381.3,1174.7 383.0,1175.9 384.6,1176.9C386.2,1177.9 387.9,1180.5 389.5,1180.2C391.1,1179.9 392.8,1177.4 394.4,1175.2C396.0,1173.0 397.8,1168.7 399.3,1167.0C400.8,1165.3 402.0,1164.6 403.4,1164.9C404.8,1165.2 406.0,1166.7 407.5,1168.7C409.0,1170.7 410.9,1175.4 412.5,1176.9C414.1,1178.5 416.1,1177.3 417.4,1178.0C418.6,1178.7 418.6,1179.3 420.0,1181.0C421.4,1182.7 424.1,1186.5 426.1,1188.4C428.2,1190.4 430.5,1192.1 432.3,1192.7C434.1,1193.3 435.2,1192.3 437.0,1192.0C438.8,1191.7 441.4,1190.3 443.3,1190.9C445.2,1191.5 446.8,1193.8 448.2,1195.8C449.6,1197.8 450.7,1201.0 451.9,1203.2C453.1,1205.5 454.4,1207.2 455.6,1209.3C456.8,1211.3 458.1,1213.8 459.3,1215.5C460.5,1217.2 462.0,1218.2 463.0,1219.2C464.0,1220.2 464.7,1222.2 465.4,1221.6C466.1,1221.0 466.8,1218.4 467.3,1215.5C467.8,1212.6 468.3,1206.2 468.5,1204.4L468.5,1308.9C468.3,1306.2 467.8,1296.9 467.3,1293.0C466.8,1289.1 466.1,1287.2 465.4,1285.6C464.7,1283.9 464.0,1284.3 463.0,1283.1C462.0,1281.9 460.5,1280.0 459.3,1278.2C458.1,1276.4 456.8,1274.6 455.6,1272.1C454.4,1269.6 453.3,1266.3 451.9,1263.4C450.5,1260.5 448.4,1256.4 447.0,1254.8C445.6,1253.2 444.7,1253.4 443.3,1253.6C441.9,1253.8 440.0,1255.3 438.4,1256.1C436.8,1256.9 434.8,1258.7 433.4,1258.5C432.0,1258.3 431.2,1256.4 429.8,1254.8C428.4,1253.2 426.5,1251.0 424.8,1248.7C423.1,1246.5 421.1,1242.8 419.9,1241.3C418.7,1239.8 418.6,1241.0 417.4,1240.0C416.2,1239.0 414.1,1237.3 412.5,1235.1C410.9,1232.9 409.0,1228.8 407.5,1226.9C406.0,1225.0 404.8,1224.0 403.4,1223.6C402.0,1223.2 400.8,1223.3 399.3,1224.4C397.8,1225.5 396.0,1228.6 394.4,1230.2C392.8,1231.8 391.1,1234.0 389.5,1234.3C387.9,1234.6 386.2,1232.8 384.6,1231.8C383.0,1230.8 381.3,1229.3 379.7,1228.5C378.1,1227.7 376.4,1228.0 374.8,1226.9C373.2,1225.8 371.5,1223.8 369.8,1222.0C368.1,1220.2 366.5,1217.9 364.9,1216.2C363.3,1214.5 361.3,1213.0 360.0,1212.0C358.7,1211.0 358.7,1211.6 357.1,1210.5C355.5,1209.4 352.8,1206.1 350.6,1205.6C348.4,1205.0 345.9,1205.8 344.0,1207.2C342.1,1208.6 340.7,1211.5 339.1,1213.8C337.5,1216.1 335.8,1218.9 334.2,1221.1C332.6,1223.3 330.9,1226.1 329.3,1226.9C327.7,1227.7 326.0,1226.9 324.3,1226.1C322.6,1225.3 321.0,1223.8 319.4,1222.0C317.8,1220.2 316.1,1217.1 314.5,1215.4C312.9,1213.8 311.2,1212.6 309.6,1212.1C308.0,1211.5 306.3,1212.4 304.7,1212.1C303.1,1211.8 301.4,1211.3 299.8,1210.5C298.2,1209.7 296.5,1208.6 294.8,1207.2C293.1,1205.8 291.5,1204.2 289.9,1202.3C288.3,1200.4 286.3,1197.1 285.0,1195.7C283.7,1194.3 283.7,1195.5 282.1,1194.1C280.5,1192.7 277.2,1188.3 275.6,1187.5C274.0,1186.7 273.7,1187.5 272.3,1189.2C270.9,1190.9 269.0,1194.1 267.4,1197.4C265.8,1200.7 264.1,1204.8 262.5,1208.9C260.9,1213.0 258.8,1217.7 257.5,1222.0C256.2,1226.3 255.9,1231.7 255.0,1235.0C254.1,1238.3 253.3,1240.1 252.1,1242.0C250.9,1243.9 249.4,1245.8 248.0,1246.6C246.6,1247.4 245.3,1245.0 243.9,1246.6C242.5,1248.1 241.2,1252.3 239.8,1255.9C238.4,1259.5 236.8,1265.2 235.7,1268.2C234.6,1271.2 234.1,1272.5 233.0,1274.0C231.9,1275.5 230.5,1278.1 229.1,1277.4C227.7,1276.7 226.2,1273.6 224.8,1270.0C223.4,1266.4 221.5,1260.6 220.4,1255.9C219.3,1251.2 219.0,1245.5 218.3,1242.0C217.6,1238.5 216.7,1238.7 216.0,1235.0C215.3,1231.3 214.7,1225.8 214.0,1220.0C213.3,1214.2 212.7,1207.0 212.0,1200.0C211.3,1193.0 210.6,1183.3 210.0,1178.0C209.4,1172.7 209.0,1170.2 208.5,1168.0C208.0,1165.8 207.5,1164.7 207.0,1164.5C206.5,1164.3 206.0,1165.2 205.5,1167.0C205.0,1168.8 204.6,1170.3 204.0,1175.0C203.4,1179.7 202.7,1185.8 202.0,1195.0C201.3,1204.2 200.7,1217.5 200.0,1230.0C199.3,1242.5 198.7,1256.7 198.0,1270.0C197.3,1283.3 196.6,1297.5 196.0,1310.0C195.4,1322.5 194.9,1333.7 194.5,1345.0C194.1,1356.3 193.6,1368.7 193.3,1378.0C193.0,1387.3 193.2,1394.4 192.7,1400.9C192.2,1407.5 191.1,1417.3 190.3,1417.3C189.5,1417.3 188.4,1407.5 187.9,1400.9C187.4,1394.4 187.7,1385.2 187.5,1378.0C187.3,1370.8 187.1,1363.7 186.8,1358.0C186.5,1352.3 186.0,1348.5 185.6,1344.0C185.2,1339.5 184.7,1335.5 184.3,1331.3C183.9,1327.1 183.4,1323.2 183.0,1319.0C182.6,1314.8 182.1,1310.3 181.7,1306.0C181.3,1301.7 180.9,1297.2 180.5,1293.0C180.1,1288.8 179.7,1284.8 179.2,1280.6C178.7,1276.4 178.1,1271.1 177.6,1268.0C177.1,1264.9 176.7,1263.5 176.2,1262.0C175.7,1260.5 175.1,1258.5 174.5,1259.0C173.9,1259.5 173.2,1264.5 172.5,1265.0C171.8,1265.5 170.8,1262.3 170.0,1262.0C169.2,1261.7 168.8,1262.3 167.9,1263.0C167.0,1263.7 165.8,1265.8 164.6,1266.0C163.4,1266.2 161.9,1264.7 160.5,1264.3C159.1,1263.9 157.6,1263.0 156.4,1263.5C155.2,1264.0 154.2,1265.5 153.1,1267.6C152.0,1269.6 150.9,1273.5 149.8,1275.8C148.7,1278.1 147.6,1281.0 146.6,1281.6C145.6,1282.1 145.1,1280.9 144.1,1279.1C143.1,1277.3 141.9,1274.2 140.8,1270.9C139.7,1267.6 138.6,1262.4 137.5,1259.4C136.4,1256.4 135.4,1253.6 134.3,1252.9C133.2,1252.2 132.2,1253.4 131.0,1255.3C129.8,1257.2 128.1,1262.1 126.9,1264.3C125.7,1266.5 124.6,1268.2 123.6,1268.4C122.6,1268.6 122.0,1267.6 121.1,1265.2C120.1,1262.8 119.0,1258.2 117.9,1254.0C116.8,1249.8 115.7,1244.5 114.6,1240.0C113.5,1235.5 112.2,1230.2 111.3,1227.0C110.4,1223.8 109.8,1222.5 109.0,1221.0C108.2,1219.5 107.7,1218.5 106.4,1218.2C105.2,1217.9 102.9,1218.0 101.5,1219.0C100.1,1220.0 99.3,1222.2 98.2,1223.9C97.1,1225.6 95.5,1228.1 94.9,1228.9Z" fill="#d9d9d9"/>
<path d="M94.9,1167.4C95.7,1168.1 98.2,1170.1 99.8,1171.5C101.4,1172.9 103.3,1174.6 104.8,1175.6C106.3,1176.5 107.5,1177.6 108.9,1177.2C110.3,1176.8 111.8,1174.9 113.0,1173.1C114.2,1171.3 115.4,1169.3 116.2,1166.6C117.0,1163.9 117.1,1160.9 117.9,1157.1C118.7,1153.3 120.0,1147.8 121.1,1144.0C122.2,1140.2 123.3,1136.7 124.4,1134.2C125.5,1131.8 126.7,1130.3 127.7,1129.3C128.7,1128.3 129.2,1128.1 130.2,1128.4C131.1,1128.7 132.4,1130.2 133.4,1130.9C134.4,1131.6 134.9,1131.5 136.0,1132.6C137.1,1133.7 138.8,1135.8 140.0,1137.5C141.2,1139.2 142.4,1140.6 143.4,1142.7C144.4,1144.8 145.1,1147.5 146.0,1150.0C146.9,1152.5 148.0,1154.8 148.9,1157.5C149.8,1160.2 150.6,1163.5 151.5,1166.0C152.4,1168.5 153.3,1170.7 154.4,1172.3C155.5,1173.9 156.8,1174.9 158.0,1175.5C159.2,1176.1 160.9,1175.5 161.8,1176.0C162.7,1176.5 162.8,1177.0 163.4,1178.7C164.0,1180.4 164.8,1183.0 165.5,1185.9C166.2,1188.8 166.8,1192.7 167.5,1196.1C168.2,1199.5 168.9,1202.1 169.6,1206.4C170.3,1210.7 170.9,1216.6 171.6,1221.7C172.3,1226.8 173.0,1232.0 173.7,1237.1C174.3,1242.1 174.9,1247.3 175.5,1252.0C176.1,1256.7 176.4,1258.7 177.0,1265.0C177.6,1271.3 178.3,1282.5 179.0,1290.0C179.7,1297.5 180.2,1303.7 181.0,1310.0C181.8,1316.3 182.7,1323.5 183.5,1328.0C184.3,1332.5 185.1,1334.9 186.0,1337.0C186.9,1339.1 188.1,1341.0 189.0,1340.5C189.9,1340.0 190.8,1337.8 191.5,1334.0C192.2,1330.2 192.9,1323.7 193.5,1318.0C194.1,1312.3 194.5,1306.3 195.0,1300.0C195.5,1293.7 195.9,1287.5 196.3,1280.0C196.7,1272.5 197.1,1263.3 197.5,1255.0C197.9,1246.7 198.3,1238.3 198.7,1230.0C199.1,1221.7 199.5,1213.3 199.8,1205.0C200.2,1196.7 200.4,1188.3 200.8,1180.0C201.2,1171.7 201.6,1163.3 202.0,1155.0C202.4,1146.7 202.8,1137.8 203.2,1130.0C203.6,1122.2 204.0,1113.9 204.5,1108.0C205.0,1102.1 205.6,1094.9 206.1,1094.4C206.6,1093.9 207.0,1100.7 207.5,1105.0C208.0,1109.3 208.4,1114.2 208.9,1120.0C209.4,1125.8 210.0,1133.3 210.5,1140.0C211.0,1146.7 211.5,1153.3 212.0,1160.0C212.5,1166.7 213.0,1173.7 213.5,1180.0C214.0,1186.3 214.4,1192.7 215.0,1198.0C215.6,1203.3 216.2,1208.0 217.0,1212.0C217.8,1216.0 218.6,1219.0 219.5,1222.0C220.4,1225.0 221.3,1228.2 222.4,1230.2C223.5,1232.2 224.7,1233.1 226.0,1234.0C227.3,1234.9 228.9,1235.5 230.1,1235.4C231.3,1235.3 232.1,1234.4 233.0,1233.5C233.9,1232.6 234.7,1231.6 235.7,1230.2C236.7,1228.8 237.4,1227.8 238.8,1225.1C240.2,1222.4 242.4,1216.5 244.4,1213.8C246.4,1211.1 249.1,1211.4 251.0,1208.9C252.9,1206.4 254.3,1203.1 255.9,1199.0C257.5,1194.9 259.2,1189.0 260.8,1184.3C262.4,1179.6 264.1,1174.6 265.7,1171.1C267.3,1167.5 269.0,1164.8 270.7,1163.0C272.4,1161.2 273.7,1159.7 275.6,1160.5C277.5,1161.3 280.5,1166.1 282.1,1167.9C283.7,1169.7 283.7,1169.5 285.0,1171.1C286.3,1172.7 288.3,1175.5 289.9,1177.7C291.5,1179.9 293.1,1182.2 294.8,1184.3C296.5,1186.3 298.2,1189.2 299.8,1190.0C301.4,1190.8 303.1,1189.8 304.7,1189.2C306.3,1188.7 308.0,1186.7 309.6,1186.7C311.2,1186.7 312.9,1187.6 314.5,1189.2C316.1,1190.8 317.8,1194.5 319.4,1196.6C321.0,1198.6 322.8,1200.8 324.3,1201.5C325.8,1202.2 327.0,1201.7 328.4,1200.7C329.8,1199.7 331.0,1198.0 332.5,1195.7C334.0,1193.4 335.9,1189.3 337.5,1186.7C339.1,1184.1 340.5,1181.8 342.4,1180.2C344.3,1178.6 346.7,1177.5 348.9,1176.9C351.1,1176.4 353.6,1176.7 355.5,1176.9C357.4,1177.1 358.4,1177.0 360.0,1178.0C361.6,1179.0 363.3,1181.0 364.9,1182.6C366.5,1184.2 368.1,1186.4 369.8,1187.5C371.5,1188.6 373.2,1189.2 374.8,1189.2C376.4,1189.2 378.1,1187.5 379.7,1187.5C381.3,1187.5 383.0,1188.7 384.6,1189.2C386.2,1189.8 387.9,1191.3 389.5,1190.8C391.1,1190.2 392.8,1187.8 394.4,1185.9C396.0,1184.0 397.8,1180.7 399.3,1179.3C400.8,1177.9 402.0,1177.1 403.4,1177.4C404.8,1177.7 406.0,1179.2 407.5,1181.0C409.0,1182.8 410.9,1186.5 412.5,1188.4C414.1,1190.3 415.8,1190.7 417.4,1192.5C419.0,1194.3 420.7,1197.1 422.3,1199.0C423.9,1200.9 425.6,1202.8 427.2,1204.0C428.8,1205.2 430.2,1205.9 432.1,1206.0C434.0,1206.1 436.5,1204.9 438.4,1204.4C440.3,1203.9 441.7,1202.8 443.3,1203.2C444.9,1203.6 446.8,1205.3 448.2,1206.9C449.6,1208.5 450.7,1211.0 451.9,1213.0C453.1,1215.0 454.4,1217.4 455.6,1219.2C456.8,1221.0 458.1,1222.5 459.3,1224.1C460.5,1225.7 461.8,1227.4 463.0,1229.0C464.2,1230.6 465.7,1234.5 466.6,1233.9C467.5,1233.3 468.2,1226.7 468.5,1225.3L468.5,1284.4C468.2,1283.2 467.5,1278.8 466.6,1277.0C465.7,1275.2 464.2,1274.7 463.0,1273.3C461.8,1271.9 460.5,1270.5 459.3,1268.4C458.1,1266.4 456.8,1263.5 455.6,1261.0C454.4,1258.5 453.1,1256.1 451.9,1253.6C450.7,1251.1 449.6,1248.2 448.2,1246.2C446.8,1244.2 444.9,1241.7 443.3,1241.3C441.7,1240.9 440.0,1243.2 438.4,1243.8C436.8,1244.4 434.8,1245.4 433.4,1245.0C432.0,1244.6 431.2,1242.9 429.8,1241.3C428.4,1239.7 426.5,1237.2 424.8,1235.2C423.1,1233.2 421.5,1230.8 419.9,1229.0C418.3,1227.2 416.2,1225.5 415.0,1224.1C413.8,1222.6 413.8,1222.0 412.5,1220.3C411.2,1218.6 409.0,1215.4 407.5,1213.8C406.0,1212.2 404.8,1210.8 403.4,1210.5C402.0,1210.2 400.8,1210.7 399.3,1212.1C397.8,1213.5 396.0,1216.8 394.4,1218.7C392.8,1220.6 391.1,1223.2 389.5,1223.6C387.9,1224.0 386.2,1222.0 384.6,1221.1C383.0,1220.1 381.3,1218.6 379.7,1217.9C378.1,1217.2 376.4,1217.7 374.8,1217.0C373.2,1216.3 371.5,1215.1 369.8,1213.8C368.1,1212.5 366.5,1210.9 364.9,1208.9C363.3,1206.9 361.3,1203.7 360.0,1202.0C358.7,1200.3 358.7,1199.9 357.1,1199.0C355.5,1198.1 352.8,1196.6 350.6,1196.6C348.4,1196.6 345.9,1197.6 344.0,1199.0C342.1,1200.4 340.7,1202.6 339.1,1204.8C337.5,1207.0 335.8,1209.8 334.2,1212.1C332.6,1214.4 330.9,1217.6 329.3,1218.7C327.7,1219.8 326.0,1219.5 324.3,1218.7C322.6,1217.9 321.0,1215.7 319.4,1213.8C317.8,1211.9 316.1,1208.7 314.5,1207.2C312.9,1205.7 311.2,1204.9 309.6,1204.8C308.0,1204.7 306.3,1206.3 304.7,1206.4C303.1,1206.5 301.4,1206.5 299.8,1205.6C298.2,1204.6 296.5,1202.3 294.8,1200.7C293.1,1199.1 291.5,1197.6 289.9,1195.7C288.3,1193.8 286.3,1190.6 285.0,1189.2C283.7,1187.8 283.7,1188.9 282.1,1187.5C280.5,1186.1 277.5,1181.5 275.6,1181.0C273.7,1180.5 272.4,1182.1 270.7,1184.3C269.0,1186.5 267.3,1190.3 265.7,1194.1C264.1,1197.9 262.5,1202.0 260.8,1207.2C259.1,1212.4 257.1,1220.6 255.5,1225.0C253.9,1229.4 252.6,1231.2 251.0,1233.5C249.4,1235.8 247.7,1236.8 246.0,1238.8C244.3,1240.8 242.6,1242.4 240.9,1245.6C239.2,1248.8 237.0,1255.0 235.7,1257.9C234.4,1260.8 234.0,1261.6 233.0,1263.0C232.0,1264.4 230.7,1266.1 229.6,1266.1C228.5,1266.1 227.5,1265.0 226.4,1263.0C225.3,1261.0 224.0,1257.2 223.0,1254.0C222.0,1250.8 221.3,1247.0 220.4,1244.0C219.5,1241.0 218.4,1239.7 217.5,1236.0C216.6,1232.3 215.8,1227.2 215.0,1222.0C214.2,1216.8 213.6,1211.2 213.0,1205.0C212.4,1198.8 212.0,1191.7 211.5,1185.0C211.0,1178.3 210.5,1170.8 210.0,1165.0C209.5,1159.2 209.0,1153.0 208.5,1150.0C208.0,1147.0 207.4,1147.0 207.0,1147.0C206.6,1147.0 206.3,1147.0 205.8,1150.0C205.3,1153.0 204.6,1157.5 204.0,1165.0C203.4,1172.5 202.7,1184.2 202.0,1195.0C201.3,1205.8 200.7,1217.5 200.0,1230.0C199.3,1242.5 198.7,1256.7 198.0,1270.0C197.3,1283.3 196.6,1296.7 196.0,1310.0C195.4,1323.3 194.9,1342.3 194.5,1350.0C194.1,1357.7 193.8,1351.7 193.6,1356.0C193.4,1360.3 193.3,1370.3 193.1,1375.6C192.9,1380.9 192.7,1384.4 192.2,1388.0C191.7,1391.6 190.7,1397.3 190.0,1397.3C189.3,1397.3 188.3,1391.6 187.8,1388.0C187.3,1384.4 187.0,1380.3 186.8,1375.6C186.6,1370.9 186.7,1365.3 186.5,1360.0C186.3,1354.7 186.0,1348.8 185.6,1344.0C185.2,1339.2 184.7,1335.5 184.3,1331.3C183.9,1327.1 183.4,1323.2 183.0,1319.0C182.6,1314.8 182.1,1310.3 181.7,1306.0C181.3,1301.7 180.9,1297.2 180.5,1293.0C180.1,1288.8 179.7,1284.8 179.2,1280.6C178.7,1276.4 178.1,1272.3 177.6,1268.0C177.1,1263.7 176.6,1258.7 176.0,1255.0C175.4,1251.3 175.0,1247.8 174.3,1246.0C173.6,1244.2 172.8,1244.2 172.0,1244.0C171.2,1243.8 170.7,1244.8 169.6,1245.0C168.5,1245.2 167.0,1245.8 165.5,1245.5C164.0,1245.2 162.1,1244.1 160.4,1243.2C158.7,1242.3 156.9,1240.2 155.2,1240.2C153.5,1240.2 151.4,1242.1 150.1,1243.5C148.8,1244.9 148.3,1248.2 147.4,1248.8C146.5,1249.4 145.4,1248.1 144.5,1247.0C143.6,1245.9 142.9,1244.0 142.0,1242.0C141.1,1240.0 140.2,1237.5 139.2,1235.0C138.2,1232.5 137.0,1229.0 135.9,1227.2C134.8,1225.5 133.7,1224.5 132.6,1224.5C131.5,1224.5 130.4,1225.8 129.3,1227.0C128.2,1228.2 127.2,1230.4 126.1,1231.5C125.0,1232.6 124.0,1233.8 122.8,1233.5C121.6,1233.2 120.1,1231.6 118.7,1229.7C117.3,1227.8 115.7,1224.5 114.6,1222.3C113.5,1220.1 113.1,1218.7 112.0,1216.5C110.9,1214.3 109.2,1210.8 108.0,1209.0C106.8,1207.2 106.0,1206.0 104.6,1205.5C103.2,1205.0 101.4,1205.8 99.8,1206.0C98.2,1206.2 95.7,1206.6 94.9,1206.7Z" fill="#8c8c8c"/>
<line x1="76.0" y1="1200.2" x2="488" y2="1200.2" stroke="#1a1a1a" stroke-width="1.7" stroke-dasharray="7.5 7.5" stroke-dashoffset="2.8"/>
<line x1="202.4" y1="1074" x2="202.4" y2="1454.1" stroke="#1a1a1a" stroke-width="1.7" stroke-dasharray="7.4 7.6"/>
<path d="M94.9,1187.0C95.7,1187.3 98.2,1187.9 99.8,1188.7C101.4,1189.5 103.1,1190.8 104.8,1192.0C106.5,1193.2 108.2,1195.2 109.7,1195.7C111.2,1196.2 112.4,1196.1 113.8,1195.2C115.2,1194.3 116.4,1192.3 117.9,1190.3C119.4,1188.3 121.2,1185.3 122.8,1183.0C124.4,1180.7 126.1,1177.8 127.7,1176.4C129.3,1175.0 131.1,1174.1 132.6,1174.4C134.1,1174.7 135.5,1176.0 136.7,1178.0C137.9,1180.0 138.9,1183.3 140.0,1186.2C141.1,1189.1 142.2,1192.4 143.3,1195.2C144.4,1198.0 145.3,1201.0 146.6,1203.2C147.9,1205.4 149.5,1207.7 151.0,1208.5C152.5,1209.3 154.0,1208.2 155.4,1208.0C156.8,1207.8 158.2,1206.6 159.5,1207.0C160.8,1207.4 162.1,1208.7 163.4,1210.5C164.7,1212.3 166.3,1215.2 167.5,1217.6C168.7,1220.0 169.6,1222.9 170.3,1225.0C171.1,1227.1 171.2,1227.3 172.0,1230.0C172.8,1232.7 174.2,1236.8 175.0,1241.0C175.8,1245.2 176.4,1250.5 177.0,1255.0C177.6,1259.5 178.1,1263.7 178.6,1268.0C179.1,1272.3 179.7,1276.4 180.2,1280.6C180.7,1284.8 181.1,1288.8 181.5,1293.0C181.9,1297.2 182.3,1301.7 182.7,1306.0C183.1,1310.3 183.6,1314.8 184.0,1319.0C184.4,1323.2 184.9,1327.1 185.3,1331.3C185.7,1335.5 186.2,1340.0 186.6,1344.0C187.0,1348.0 187.4,1351.7 187.8,1355.0C188.2,1358.3 188.5,1361.7 188.8,1364.0C189.2,1366.3 189.5,1368.9 189.9,1369.0C190.3,1369.1 190.7,1366.7 191.0,1364.5C191.3,1362.3 191.6,1359.4 191.9,1356.0C192.2,1352.6 192.4,1348.1 192.7,1344.0C193.0,1339.9 193.2,1335.6 193.5,1331.3C193.8,1327.0 194.1,1322.2 194.4,1318.0C194.7,1313.8 195.1,1310.2 195.4,1306.0C195.7,1301.8 195.8,1297.2 196.0,1293.0C196.2,1288.8 196.4,1284.8 196.6,1280.6C196.8,1276.4 197.1,1272.2 197.3,1268.0C197.5,1263.8 197.7,1259.5 197.9,1255.3C198.1,1251.1 198.2,1247.2 198.4,1243.0C198.6,1238.8 198.7,1234.7 198.9,1230.0C199.1,1225.3 199.2,1220.0 199.4,1215.0C199.6,1210.0 200.0,1206.0 200.2,1200.0C200.4,1194.0 200.3,1186.1 200.6,1178.8C200.9,1171.5 201.5,1163.6 202.0,1156.0C202.5,1148.4 203.2,1138.5 203.8,1133.0C204.4,1127.5 204.8,1125.2 205.3,1123.0C205.8,1120.8 206.2,1119.5 206.7,1119.5C207.1,1119.5 207.5,1120.8 208.0,1123.0C208.5,1125.2 208.9,1127.5 209.5,1133.0C210.1,1138.5 211.1,1148.4 211.8,1156.0C212.5,1163.6 213.3,1173.1 213.8,1178.8C214.3,1184.5 214.4,1185.6 214.9,1190.0C215.4,1194.4 216.0,1200.0 216.6,1205.0C217.2,1210.0 217.5,1214.9 218.3,1220.0C219.1,1225.1 220.2,1231.0 221.4,1235.4C222.6,1239.8 224.1,1244.0 225.5,1246.6C226.9,1249.1 228.2,1250.9 229.6,1250.7C231.0,1250.5 232.3,1248.0 233.7,1245.6C235.1,1243.2 236.4,1239.3 237.8,1236.4C239.2,1233.5 240.5,1230.1 241.9,1228.2C243.3,1226.3 244.6,1225.9 246.0,1225.1C247.4,1224.2 248.9,1223.9 250.1,1223.1C251.3,1222.2 252.2,1221.8 253.2,1220.0C254.2,1218.2 255.0,1214.7 256.0,1212.0C257.0,1209.3 257.8,1207.7 259.2,1203.9C260.6,1200.1 262.5,1193.6 264.1,1189.2C265.7,1184.8 267.1,1180.7 269.0,1177.7C270.9,1174.7 273.7,1171.4 275.6,1171.1C277.5,1170.8 278.9,1174.5 280.5,1176.1C282.1,1177.7 283.4,1179.0 285.0,1180.5C286.6,1182.0 288.3,1183.2 289.9,1185.1C291.5,1186.9 293.1,1189.5 294.8,1191.6C296.5,1193.6 298.3,1196.3 299.8,1197.4C301.3,1198.5 302.5,1198.6 303.9,1198.2C305.3,1197.8 306.6,1195.6 308.0,1194.9C309.4,1194.2 310.6,1193.5 312.0,1194.1C313.4,1194.6 314.6,1196.3 316.1,1198.2C317.6,1200.1 319.2,1203.7 321.1,1205.6C323.0,1207.5 325.4,1210.0 327.6,1209.7C329.8,1209.4 332.0,1206.5 334.2,1203.9C336.4,1201.3 338.5,1196.7 340.7,1194.1C342.9,1191.5 345.1,1189.6 347.3,1188.4C349.5,1187.2 351.8,1186.4 353.9,1186.7C356.0,1187.0 358.4,1188.2 360.2,1190.0C362.0,1191.8 363.3,1195.2 364.9,1197.4C366.5,1199.6 368.1,1202.3 369.8,1203.1C371.5,1203.9 373.2,1202.4 374.8,1202.3C376.4,1202.2 378.1,1201.8 379.7,1202.3C381.3,1202.8 383.0,1204.6 384.6,1205.6C386.2,1206.5 387.9,1208.4 389.5,1208.0C391.1,1207.6 392.8,1205.1 394.4,1203.1C396.0,1201.0 397.8,1197.3 399.3,1195.7C400.8,1194.1 402.0,1193.2 403.4,1193.3C404.8,1193.4 406.0,1194.8 407.5,1196.6C409.0,1198.4 410.9,1201.7 412.5,1203.9C414.1,1206.1 415.8,1207.9 417.4,1210.0C419.0,1212.1 420.7,1214.4 422.3,1216.5C423.9,1218.6 425.8,1221.0 427.2,1222.5C428.6,1224.0 429.5,1224.8 430.5,1225.5C431.5,1226.2 432.1,1227.0 433.4,1226.6C434.7,1226.2 436.8,1223.9 438.4,1222.9C440.0,1221.9 441.7,1220.2 443.3,1220.4C444.9,1220.6 446.8,1222.2 448.2,1224.1C449.6,1225.9 450.7,1228.8 451.9,1231.5C453.1,1234.2 454.4,1237.4 455.6,1240.1C456.8,1242.8 457.9,1245.5 459.3,1247.5C460.7,1249.5 462.7,1251.2 464.2,1252.4C465.7,1253.6 467.8,1254.4 468.5,1254.8" fill="none" stroke="#000" stroke-width="4" stroke-linejoin="round" stroke-linecap="butt"/>
<path d="M76.4,1043.9V1454.1H488" fill="none" stroke="#000" stroke-width="1.9" stroke-linecap="butt" stroke-linejoin="miter"/>
<line x1="71.2" y1="1111.8" x2="76.4" y2="1111.8" stroke="#333" stroke-width="1.7"/>
<text transform="translate(67.4,1118.3) scale(0.96,1)" font-size="16.6" fill="#474747" text-anchor="end">0.10</text>
<line x1="71.2" y1="1200.2" x2="76.4" y2="1200.2" stroke="#333" stroke-width="1.7"/>
<text transform="translate(67.4,1206.7) scale(0.96,1)" font-size="16.6" fill="#474747" text-anchor="end">0.00</text>
<line x1="71.2" y1="1288.7" x2="76.4" y2="1288.7" stroke="#333" stroke-width="1.7"/>
<text transform="translate(67.4,1295.2) scale(0.96,1)" font-size="16.6" fill="#474747" text-anchor="end">−0.10</text>
<line x1="71.2" y1="1377.3" x2="76.4" y2="1377.3" stroke="#333" stroke-width="1.7"/>
<text transform="translate(67.4,1383.8) scale(0.96,1)" font-size="16.6" fill="#474747" text-anchor="end">−0.20</text>
<line x1="94.8" y1="1454.1" x2="94.8" y2="1459.1" stroke="#333" stroke-width="1.7"/>
<text transform="translate(94.8,1473.8999999999999) scale(0.96,1)" font-size="16.6" fill="#474747" text-anchor="middle">−2</text>
<line x1="202.0" y1="1454.1" x2="202.0" y2="1459.1" stroke="#333" stroke-width="1.7"/>
<text transform="translate(202.0,1473.8999999999999) scale(0.96,1)" font-size="16.6" fill="#474747" text-anchor="middle">0</text>
<line x1="309.2" y1="1454.1" x2="309.2" y2="1459.1" stroke="#333" stroke-width="1.7"/>
<text transform="translate(309.2,1473.8999999999999) scale(0.96,1)" font-size="16.6" fill="#474747" text-anchor="middle">2</text>
<line x1="416.4" y1="1454.1" x2="416.4" y2="1459.1" stroke="#333" stroke-width="1.7"/>
<text transform="translate(416.4,1473.8999999999999) scale(0.96,1)" font-size="16.6" fill="#474747" text-anchor="middle">4</text>
<text transform="translate(282,1496.0) scale(1.035,1)" font-size="19" font-weight="normal" fill="#000" text-anchor="middle" >Time (s)</text>
<text transform="translate(14.0,1248.8) rotate(-90) scale(0.995,1.06)" font-size="19" text-anchor="middle">β<tspan font-size="13.3" dy="3.4">2</tspan><tspan dy="-3.4">(s)</tspan></text>
<text transform="translate(281.5,1029.6) scale(1.035,1)" font-size="22" font-weight="bold" fill="#000" text-anchor="middle" >Session Number</text>
<line x1="122.7" y1="1067.9" x2="200.9" y2="1067.9" stroke="#ca0020" stroke-width="3.6"/>
<line x1="203" y1="1067.9" x2="281.5" y2="1067.9" stroke="#0571b0" stroke-width="3.6"/>
<text x="131.6" y="1061.5" font-size="15.8" fill="#ca0020">Baseline</text>
<text x="203.1" y="1061.5" font-size="15.8" fill="#0571b0">Reward Period</text>
</svg></body></html>
